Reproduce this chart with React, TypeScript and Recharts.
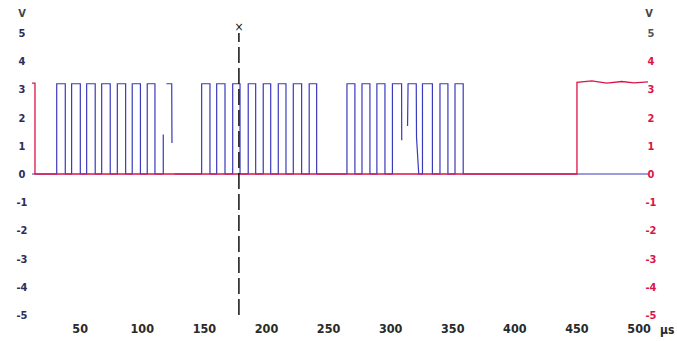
import React from 'react';
import { LineChart, Line, XAxis, YAxis, ReferenceLine } from 'recharts';

// time axis (µs) and voltage ticks
const xTicks = [50, 100, 150, 200, 250, 300, 350, 400, 450, 500];
const yTicks = [-5, -4, -3, -2, -1, 0, 1, 2, 3, 4, 5];
const xDomain: [number, number] = [11.2, 507.2];
const cursorT = 177.8;

// channel 1 (blue) — [time µs, volts]; null = trace gap
const blueStart: [number, number | null][] = [[11.2, 0]];
const blueGroup1: [number, number | null][] = [
  [31.1, 0], [31.1, 3.2], [38.0, 3.2], [38.0, 0],
  [43.1, 0], [43.1, 3.2], [50.1, 3.2], [50.1, 0],
  [55.2, 0], [55.2, 3.2], [62.1, 3.2], [62.1, 0],
  [67.3, 0], [67.3, 3.2], [74.2, 3.2], [74.2, 0],
  [79.9, 0], [79.9, 3.2], [86.6, 3.2], [86.6, 0],
  [91.9, 0], [91.9, 3.2], [98.5, 3.2], [98.5, 0],
  [104.0, 0], [104.0, 3.2], [110.2, 3.2], [110.2, 0],
  [116.9, 0], [116.9, 1.4], [118.0, null], [119.4, 3.2], [123.7, 3.2], [123.9, 1.1], [125.0, null], [126.0, 0],
];
const blueGroup2: [number, number | null][] = [
  [147.8, 0], [147.8, 3.2], [154.5, 3.2], [154.5, 0],
  [159.9, 0], [159.9, 3.2], [166.6, 3.2], [166.6, 0],
  [172.8, 0], [172.8, 3.2], [178.7, 3.2], [178.7, 0],
  [185.3, 0], [185.3, 3.2], [191.3, 3.2], [191.3, 0],
  [197.4, 0], [197.4, 3.2], [203.4, 3.2], [203.4, 0],
  [209.5, 0], [209.5, 3.2], [215.7, 3.2], [215.7, 0],
  [221.6, 0], [221.6, 3.2], [228.3, 3.2], [228.3, 0],
  [234.4, 0], [234.4, 3.2], [240.4, 3.2], [240.4, 0],
];
const blueGroup3: [number, number | null][] = [
  [264.8, 0], [264.8, 3.2], [271.2, 3.2], [271.2, 0],
  [276.9, 0], [276.9, 3.2], [283.3, 3.2], [283.3, 0],
  [288.9, 0], [288.9, 3.2], [295.4, 3.2], [295.4, 0],
  [301.4, 0], [301.4, 3.2], [308.8, 3.2], [308.9, 1.2], [310.0, null],
  [313.6, 1.7], [314.0, 3.2], [320.6, 3.2], [320.8, 1.3], [322.6, 0],
  [325.6, 0], [325.6, 3.2], [333.6, 3.2], [333.6, 0],
  [339.7, 0], [339.7, 3.2], [346.1, 3.2], [346.1, 0],
  [351.8, 0], [351.8, 3.2], [358.4, 3.2], [358.4, 0],
];
const blueEnd: [number, number | null][] = [[507.2, 0]];

// channel 2 (red)
const redTrace: [number, number][] = [
  [11.2, 3.22], [13.6, 3.22], [13.6, 0], [450.0, 0], [450.0, 3.25],
  [462, 3.3], [474, 3.22], [486, 3.28], [496, 3.23], [507.2, 3.27],
];

const toRows = (pts: [number, number | null][]) => pts.map(([t, v]) => ({ t, v }));
const blueData = toRows([...blueStart, ...blueGroup1, ...blueGroup2, ...blueGroup3, ...blueEnd]);
const redData = toRows(redTrace);

const FONT = "'Liberation Sans Narrow', 'DejaVu Sans Condensed', sans-serif";
const BLUE = '#3a3abc';
const RED = '#dc1446';

const XTick = (props: any) => (
  <text x={props.x} y={333} textAnchor="middle" fontFamily={FONT} fontWeight="bold" fontSize={12.5} fill="#2a2a2a">
    {props.payload.value}
  </text>
);
const LeftTick = (props: any) => (
  <text x={22} y={props.y + 4} textAnchor="middle" fontFamily={FONT} fontWeight="bold" fontSize={11} fill="#2c2c5a">
    {props.payload.value}
  </text>
);
const RightTick = (props: any) => (
  <text x={651} y={props.y + 4} textAnchor="middle" fontFamily={FONT} fontWeight="bold" fontSize={11}
    fill={props.payload.value === 5 ? '#555' : RED}>
    {props.payload.value}
  </text>
);

export default function App() {
  return (
    <div style={{ position: 'absolute', left: 0, top: 0, width: 677, height: 341, background: '#fff' }}>
      <LineChart width={677} height={341} data={blueData} margin={{ top: 33, right: 0, bottom: 0, left: 0 }}>
        <XAxis type="number" dataKey="t" domain={xDomain} ticks={xTicks} height={26}
          axisLine={false} tickLine={false} tick={<XTick />} allowDataOverflow interval={0} />
        <YAxis yAxisId="left" domain={[-5, 5]} ticks={yTicks} width={32} axisLine={false} tickLine={false}
          tick={<LeftTick />} interval={0} />
        <YAxis yAxisId="right" orientation="right" domain={[-5, 5]} ticks={yTicks} width={29}
          axisLine={false} tickLine={false} tick={<RightTick />} interval={0} />
        <Line yAxisId="left" data={blueData} dataKey="v" type="linear" stroke={BLUE} strokeWidth={1.2}
          dot={false} isAnimationActive={false} connectNulls={false} />
        <Line yAxisId="right" data={redData} dataKey="v" type="linear" stroke={RED} strokeWidth={1.3}
          dot={false} isAnimationActive={false} />
        <ReferenceLine yAxisId="left" x={cursorT} stroke="#111" strokeWidth={1.5} strokeDasharray="16 5" />
      </LineChart>
      <svg width={677} height={341} style={{ position: 'absolute', left: 0, top: 0, pointerEvents: 'none' }}>
        <text x={22} y={17} textAnchor="middle" fontFamily={FONT} fontWeight="bold" fontSize={11} fill="#444">V</text>
        <text x={649} y={17} textAnchor="middle" fontFamily={FONT} fontWeight="bold" fontSize={11} fill="#444">V</text>
        <text x={660} y={334} fontFamily={FONT} fontWeight="bold" fontSize={12} fill="#2a2a2a">µs</text>
        <text x={239} y={31} textAnchor="middle" fontFamily={FONT} fontSize={12} fill="#111">×</text>
      </svg>
    </div>
  );
}
